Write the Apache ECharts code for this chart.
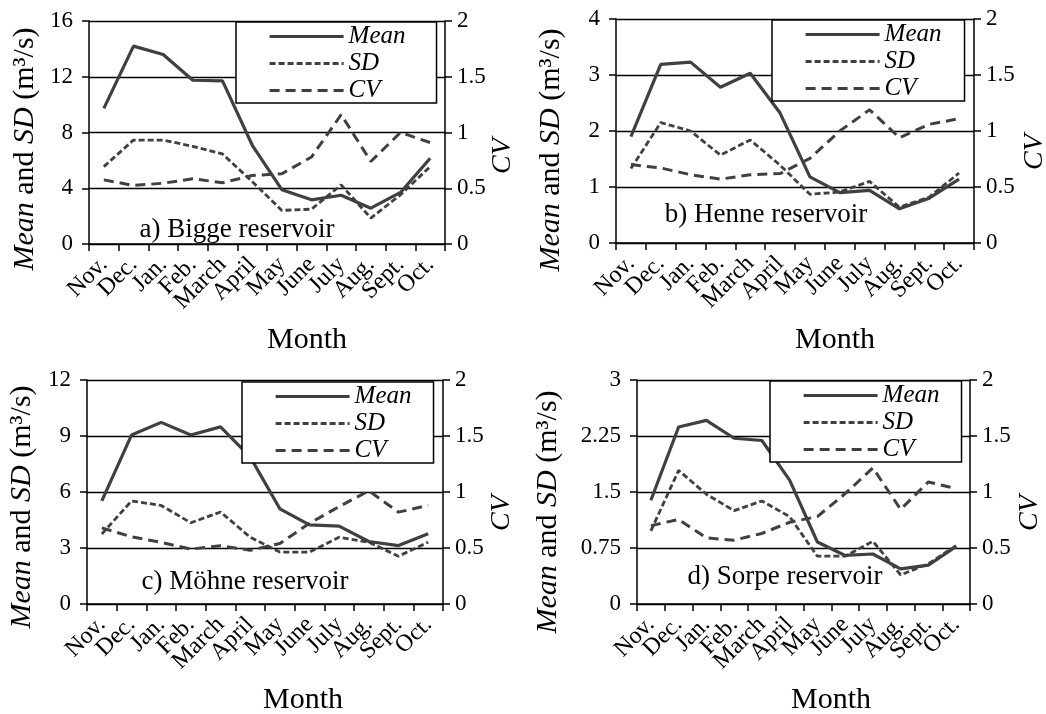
<!DOCTYPE html>
<html>
<head>
<meta charset="utf-8">
<script src="https://cdn.jsdelivr.net/npm/echarts@6/dist/echarts.min.js"></script>
<style>
  html, body { margin: 0; padding: 0; background: #fff; }
  #chart { width: 1046px; height: 714px; }
</style>
</head>
<body>
<div id="chart"></div>
<script>
const months = ["Nov.", "Dec.", "Jan.", "Feb.", "March", "April", "May", "June", "July", "Aug.", "Sept.", "Oct."];

// a) Bigge
const biggeMean = [9.73, 14.2, 13.6, 11.75, 11.7, 7.1, 3.9, 3.17, 3.5, 2.57, 3.7, 6.15];
const biggeSd = [5.55, 7.46, 7.46, 7.0, 6.46, 4.48, 2.41, 2.5, 4.24, 1.86, 3.53, 5.55];
const biggeCv = [0.575, 0.525, 0.545, 0.585, 0.55, 0.614, 0.63, 0.78, 1.16, 0.74, 1.0, 0.91];
// b) Henne
const henneMean = [1.9, 3.19, 3.23, 2.78, 3.03, 2.32, 1.18, 0.9, 0.94, 0.61, 0.8, 1.14];
const henneSd = [1.33, 2.15, 2.0, 1.57, 1.84, 1.39, 0.87, 0.91, 1.1, 0.64, 0.82, 1.25];
const henneCv = [0.7, 0.67, 0.61, 0.57, 0.61, 0.62, 0.755, 1.0, 1.19, 0.94, 1.06, 1.11];
// c) Möhne
const moehneMean = [5.52, 9.05, 9.73, 9.05, 9.49, 7.88, 5.1, 4.24, 4.17, 3.35, 3.13, 3.76];
const moehneSd = [3.75, 5.52, 5.28, 4.35, 4.93, 3.58, 2.78, 2.78, 3.58, 3.31, 2.56, 3.31];
const moehneCv = [0.68, 0.6, 0.55, 0.49, 0.52, 0.48, 0.54, 0.72, 0.87, 1.01, 0.82, 0.88];
// d) Sorpe
const sorpeMean = [1.39, 2.37, 2.46, 2.22, 2.19, 1.66, 0.83, 0.65, 0.67, 0.47, 0.52, 0.77];
const sorpeSd = [0.98, 1.79, 1.47, 1.25, 1.38, 1.17, 0.64, 0.64, 0.84, 0.39, 0.54, 0.78];
const sorpeCv = [0.7, 0.755, 0.59, 0.57, 0.63, 0.73, 0.78, 0.985, 1.215, 0.845, 1.09, 1.03];

const leftMax = [16, 4, 12, 3];
const leftInterval = [4, 1, 3, 0.75];
const panelLabels = ["a) Bigge reservoir", "b) Henne reservoir", "c) Möhne reservoir", "d) Sorpe reservoir"];

const panels = [
  { mean: biggeMean, sd: biggeSd, cv: biggeCv },
  { mean: henneMean, sd: henneSd, cv: henneCv },
  { mean: moehneMean, sd: moehneSd, cv: moehneCv },
  { mean: sorpeMean, sd: sorpeSd, cv: sorpeCv }
];

// layout of each panel (pixels)
const boxes = [
  { left: 89, top: 21, width: 356, height: 223, leg: [236, 22], legR: 31, lab: [237, 230], month: [307, 340], ytitle: [25, 149], cvt: [503, 156] },
  { left: 616, top: 19, width: 358, height: 224, leg: [772, 20], legR: 23, lab: [766, 215], month: [835, 340], ytitle: [551, 150], cvt: [1035, 152] },
  { left: 87, top: 380, width: 356, height: 224, leg: [242, 382], legR: 22, lab: [245, 582], month: [303, 700], ytitle: [22, 507], cvt: [502, 513] },
  { left: 637, top: 380, width: 333, height: 224, leg: [770, 381], legR: 22, lab: [785, 577], month: [831, 700], ytitle: [548, 512], cvt: [1030, 513] }
];

const FONT = "Liberation Serif";
const LINE = "#404040";

const grid = [], xAxis = [], yAxis = [], series = [], legend = [], graphic = [];

boxes.forEach((b, i) => {
  grid.push({ left: b.left, top: b.top, width: b.width, height: b.height });
  xAxis.push({
    type: "category", gridIndex: i, data: months, boundaryGap: true,
    axisLine: { lineStyle: { color: "#000", width: 1.5 } },
    axisTick: { show: true, interval: 0, length: 7, lineStyle: { color: "#000", width: 1.5 } },
    axisLabel: { interval: 0, rotate: 45, margin: 17, color: "#000", fontFamily: FONT, fontSize: 24 }
  });
  yAxis.push({
    type: "value", gridIndex: i, min: 0, max: leftMax[i], interval: leftInterval[i],
    axisLine: { show: true, lineStyle: { color: "#000", width: 1.5 } },
    axisTick: { show: true, length: 7, lineStyle: { color: "#000", width: 1.5 } },
    axisLabel: { margin: 16, color: "#000", fontFamily: FONT, fontSize: 23 },
    splitLine: { show: true, lineStyle: { color: "#000", width: 1.3 } }
  });
  yAxis.push({
    type: "value", gridIndex: i, position: "right", min: 0, max: 2, interval: 0.5,
    axisLine: { show: true, lineStyle: { color: "#000", width: 1.5 } },
    axisTick: { show: true, length: 7, lineStyle: { color: "#000", width: 1.5 } },
    axisLabel: { margin: 12, color: "#000", fontFamily: FONT, fontSize: 23 },
    splitLine: { show: false }
  });
  const p = panels[i];
  series.push(
    { name: "Mean", type: "line", xAxisIndex: i, yAxisIndex: 2 * i, data: p.mean, symbol: "none",
      lineStyle: { color: LINE, width: 3.2 }, itemStyle: { color: LINE }, z: 3 },
    { name: "SD", type: "line", xAxisIndex: i, yAxisIndex: 2 * i, data: p.sd, symbol: "none",
      lineStyle: { color: LINE, width: 2.8, type: [6, 3] }, itemStyle: { color: LINE }, z: 3 },
    { name: "CV", type: "line", xAxisIndex: i, yAxisIndex: 2 * i + 1, data: p.cv, symbol: "none",
      lineStyle: { color: LINE, width: 3, type: [10, 6] }, itemStyle: { color: LINE }, z: 3 }
  );
  legend.push({
    data: [
      { name: "Mean", lineStyle: { width: 3.2 } },
      { name: "SD", lineStyle: { width: 3 } },
      { name: "CV", lineStyle: { width: 3 } }
    ],
    orient: "vertical", left: b.leg[0], top: b.leg[1],
    backgroundColor: "#fff", borderColor: "#000", borderWidth: 1.5,
    padding: [2, b.legR, 0, 32], itemGap: 2, itemWidth: 74, itemHeight: 18,
    itemStyle: { opacity: 0 },
    textStyle: { fontFamily: FONT, fontStyle: "italic", fontSize: 25, color: "#000", lineHeight: 22 },
    z: 10
  });
  graphic.push(
    { type: "text", x: b.lab[0], y: b.lab[1], z: 20,
      style: { text: panelLabels[i], font: "27px " + FONT, fill: "#000", align: "center", verticalAlign: "middle" } },
    { type: "text", x: b.month[0], y: b.month[1], z: 20,
      style: { text: "Month", font: "30px " + FONT, fill: "#000", align: "center", verticalAlign: "middle" } },
    { type: "text", x: b.ytitle[0], y: b.ytitle[1], rotation: Math.PI / 2, z: 20,
      style: { text: "{i|Mean} and {i|SD} (m³/s)", font: "30px " + FONT, fill: "#000", align: "center", verticalAlign: "middle",
        rich: { i: { fontFamily: FONT, fontStyle: "italic", fontSize: 30, fill: "#000" } } } },
    { type: "text", x: b.cvt[0], y: b.cvt[1], rotation: Math.PI / 2, z: 20,
      style: { text: "CV", font: "italic 28px " + FONT, fill: "#000", align: "center", verticalAlign: "middle" } }
  );
});

const chart = echarts.init(document.getElementById("chart"));
chart.setOption({
  animation: false,
  backgroundColor: "#fff",
  grid, xAxis, yAxis, series, legend, graphic
});
</script>
</body>
</html>
